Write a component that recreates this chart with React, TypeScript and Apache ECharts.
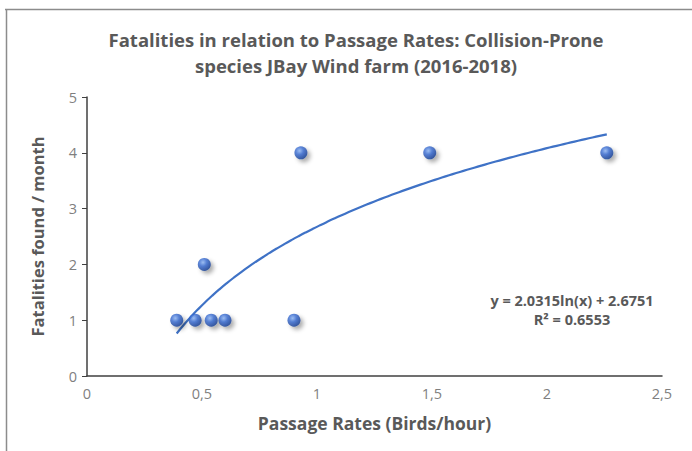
import React, { useEffect, useRef } from "react";
import * as echarts from "echarts";

const passageRates = [0.39, 0.47, 0.54, 0.6, 0.51, 0.9, 0.93, 1.49, 2.26];
const fatalities = [1, 1, 1, 1, 2, 1, 4, 4, 4];
const trendA = 2.0315;
const trendB = 2.6751;
const rSquared = "0.6553";
const titleLines = ["Fatalities in relation to Passage Rates: Collision-Prone", "species JBay Wind farm (2016-2018)"];
const xAxisTitle = "Passage Rates (Birds/hour)";
const yAxisTitle = "Fatalities found / month";

export default function App() {
  const ref = useRef<HTMLDivElement>(null);
  useEffect(() => {
    if (!ref.current) return;
    const chart = echarts.init(ref.current, null, { renderer: "svg" });
    const minX = Math.min(...passageRates);
    const maxX = Math.max(...passageRates);
    const trend: number[][] = [];
    const n = 60;
    for (let i = 0; i <= n; i++) {
      const x = minX + ((maxX - minX) * i) / n;
      trend.push([x, trendA * Math.log(x) + trendB]);
    }
    const font = "'Open Sans', sans-serif";
    const gray = "#595959";
    chart.setOption({
      animation: false,
      backgroundColor: "#ffffff",
      title: {
        text: titleLines.join("\n"),
        left: 351,
        top: 21,
        textAlign: "center",
        textStyle: {
          fontFamily: font,
          fontWeight: "bold",
          fontSize: 18.5,
          color: gray,
          lineHeight: 26,
        },
      },
      grid: { left: 87, right: 30, top: 97, bottom: 75 },
      xAxis: {
        type: "value",
        min: 0,
        max: 2.5,
        interval: 0.5,
        name: xAxisTitle,
        nameLocation: "middle",
        nameGap: 38,
        nameTextStyle: { fontFamily: font, fontWeight: "bold", fontSize: 17.5, color: gray },
        axisLine: { show: true, lineStyle: { color: "#404040", width: 1.5 } },
        axisTick: { show: false },
        splitLine: { show: false },
        axisLabel: {
          fontFamily: font,
          fontSize: 14.5,
          color: "#7f7f7f",
          margin: 10,
          formatter: (v: number) => String(v).replace(".", ","),
        },
      },
      yAxis: {
        type: "value",
        min: 0,
        max: 5,
        interval: 1,
        name: yAxisTitle,
        nameLocation: "middle",
        nameGap: 41,
        nameTextStyle: { fontFamily: font, fontWeight: "bold", fontSize: 16.5, color: gray },
        axisLine: { show: true, lineStyle: { color: "#404040", width: 1.5 } },
        axisTick: { show: true, inside: false, length: 5, lineStyle: { color: "#404040" } },
        splitLine: { show: false },
        axisLabel: { fontFamily: font, fontSize: 14.5, color: "#7f7f7f", margin: 10 },
      },
      series: [
        {
          type: "line",
          data: trend,
          showSymbol: false,
          smooth: true,
          lineStyle: { color: "#3f72c6", width: 2.2 },
          z: 2,
        },
        {
          type: "scatter",
          data: passageRates.map((x, i) => [x, fatalities[i]]),
          symbolSize: 13,
          z: 3,
          itemStyle: {
            color: {
              type: "radial",
              x: 0.4,
              y: 0.35,
              r: 0.65,
              colorStops: [
                { offset: 0, color: "#8ab2f2" },
                { offset: 0.45, color: "#3468cf" },
                { offset: 1, color: "#173f94" },
              ],
            },
            shadowBlur: 4,
            shadowOffsetX: 3,
            shadowOffsetY: 3,
            shadowColor: "rgba(0,0,0,0.4)",
          },
        },
      ],
      graphic: [
        {
          type: "line",
          shape: { x1: 5, y1: 9.5, x2: 692, y2: 9.5 },
          style: { stroke: "#8c8c8c", lineWidth: 1.5 },
        },
        {
          type: "line",
          shape: { x1: 6.5, y1: 9, x2: 6.5, y2: 451 },
          style: { stroke: "#8c8c8c", lineWidth: 1.5 },
        },
        {
          type: "text",
          x: 572,
          y: 309.5,
          style: {
            text: `y = ${trendA}ln(x) + ${trendB}\nR² = ${rSquared}`,
            fontFamily: font,
            fontWeight: "bold",
            fontSize: 14.5,
            lineHeight: 19,
            fill: gray,
            align: "center",
            verticalAlign: "middle",
          },
        },
      ],
    });
    return () => chart.dispose();
  }, []);
  return (
    <div
      ref={ref}
      style={{ position: "absolute", left: 0, top: 0, width: 692, height: 451 }}
    />
  );
}
